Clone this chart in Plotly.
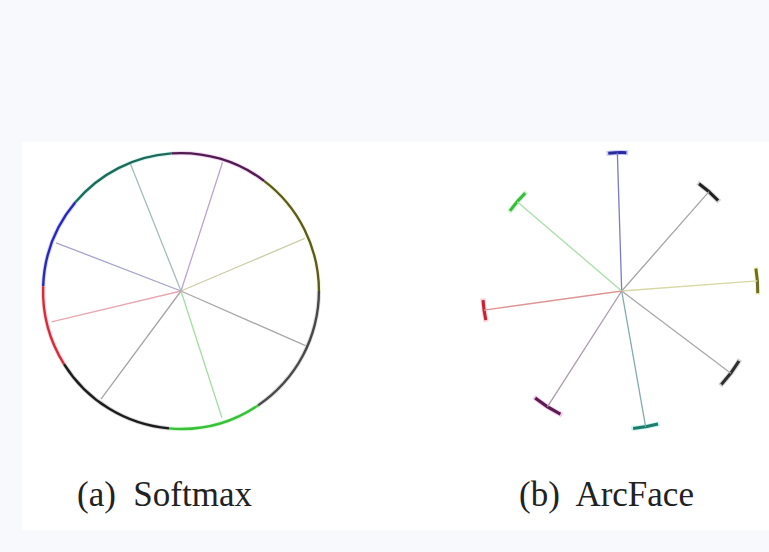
import plotly.graph_objects as go

# ---------------- data ----------------
# (a) Softmax: class weight directions (deg) and their lengths (unit circle = 1)
softmax_angles = [111.7, 72.1, 23.0, 336.3, 287.9, 233.5, 193.4, 158.9]
softmax_lengths = [0.99, 0.98, 0.975, 0.985, 0.965, 0.975, 0.965, 0.97]
softmax_spoke_colors = ["#a6bcbc", "#bca4cc", "#cccca8", "#a8a8a8",
                        "#a2dea2", "#a4a4a4", "#e8a8b2", "#a4a4cc"]

# feature ring: angular extent of each class (centre, span in deg)
ring_centers = [26.5, 73.5, 117.0, 159.0, 195.0, 238.5, 284.5, 332.0]
ring_spans = [53, 41, 46, 38, 34, 53, 39, 56]
ring_colors = ["#5a5a22", "#4e1c4e", "#1f6a5a", "#2828b8",
               "#d82a3a", "#1c1c1c", "#38c038", "#484848"]
ring_halo = ["#e4e46a", "#e070e0", "#70e0d0", "#6a6ae0",
             "#f07080", "#707070", "#80f080", "#909090"]

# (b) ArcFace: class weight directions (deg) and lengths
arcface_angles = [91.8, 48.7, 4.3, 323.0, 280.0, 237.3, 187.9, 139.5]
arcface_lengths = [1.003, 0.958, 0.986, 0.99, 0.999, 0.997, 1.007, 0.996]
arcface_spoke_colors = ["#7a7ac8", "#a4a4a4", "#d8d8a4", "#a8a8a8",
                        "#84aaaa", "#aa9aaa", "#e09494", "#a8dea8"]
# compact feature clusters at the end of each weight (angular span in deg)
cluster_spans = [7.5, 11.0, 10.5, 12.3, 10.5, 12.5, 8.3, 9.8]
cluster_colors = ["#2a2aa0", "#202020", "#6e6e1e", "#2e2e2e",
                  "#1e7a6a", "#5a1c4e", "#c82232", "#3cbc3c"]
cluster_halo = ["#7070e0", "#808080", "#e8e860", "#808080",
                "#60e0d0", "#e060d0", "#f07080", "#80f080"]

captions = ["(a)  Softmax", "(b)  ArcFace"]

# ---------------- figure ----------------
W, H = 769, 552
PX_PER_UNIT = 138.0
R_MAX = 1.06
half = R_MAX * PX_PER_UNIT


def domain(cx, cy):
    yb = H - cy
    return dict(x=[(cx - half) / W, (cx + half) / W],
                y=[(yb - half) / H, (yb + half) / H])


fig = go.Figure()

# --- Softmax panel ---
fig.add_trace(go.Barpolar(
    theta=ring_centers, width=ring_spans,
    base=[0.984] * len(ring_centers), r=[0.03] * len(ring_centers),
    marker=dict(color=ring_halo, line=dict(width=0)), opacity=0.3,
    subplot="polar", showlegend=False, hoverinfo="skip"))
fig.add_trace(go.Barpolar(
    theta=ring_centers, width=ring_spans,
    base=[0.991] * len(ring_centers), r=[0.017] * len(ring_centers),
    marker=dict(color=ring_colors, line=dict(width=0)),
    subplot="polar", showlegend=False, hoverinfo="skip"))
for ang, length, col in zip(softmax_angles, softmax_lengths, softmax_spoke_colors):
    fig.add_trace(go.Scatterpolar(
        r=[0, length], theta=[ang, ang], mode="lines",
        line=dict(color=col, width=1.3),
        subplot="polar", showlegend=False, hoverinfo="skip"))

# --- ArcFace panel ---
for ang, length, col in zip(arcface_angles, arcface_lengths, arcface_spoke_colors):
    fig.add_trace(go.Scatterpolar(
        r=[0, length], theta=[ang, ang], mode="lines",
        line=dict(color=col, width=1.3),
        subplot="polar2", showlegend=False, hoverinfo="skip"))
fig.add_trace(go.Barpolar(
    theta=arcface_angles, width=[s + 1.5 for s in cluster_spans],
    base=[l - 0.018 for l in arcface_lengths], r=[0.036] * len(arcface_lengths),
    marker=dict(color=cluster_halo, line=dict(width=0)), opacity=0.35,
    subplot="polar2", showlegend=False, hoverinfo="skip"))
fig.add_trace(go.Barpolar(
    theta=arcface_angles, width=cluster_spans,
    base=[l - 0.011 for l in arcface_lengths], r=[0.022] * len(arcface_lengths),
    marker=dict(color=cluster_colors, line=dict(width=0)),
    subplot="polar2", showlegend=False, hoverinfo="skip"))

polar_common = dict(
    bgcolor="rgba(0,0,0,0)",
    radialaxis=dict(visible=False, range=[0, R_MAX], showgrid=False),
    angularaxis=dict(visible=False, showgrid=False, rotation=0,
                     direction="counterclockwise"),
)

fig.update_layout(
    width=W, height=H,
    margin=dict(l=0, r=0, t=0, b=0),
    paper_bgcolor="#f7f9fc",
    plot_bgcolor="rgba(0,0,0,0)",
    polar=dict(domain=domain(181, 291), **polar_common),
    polar2=dict(domain=domain(621.7, 291), **polar_common),
    shapes=[dict(type="rect", xref="paper", yref="paper", layer="below",
                 x0=22 / W, x1=1.0, y0=(H - 530) / H, y1=(H - 142) / H,
                 fillcolor="#ffffff", line=dict(width=0))],
    annotations=[
        dict(text=captions[0], x=164 / W, y=(H - 494) / H,
             xref="paper", yref="paper", showarrow=False,
             xanchor="center", yanchor="middle",
             font=dict(family="Liberation Serif", size=35, color="#222222")),
        dict(text=captions[1], x=606 / W, y=(H - 494) / H,
             xref="paper", yref="paper", showarrow=False,
             xanchor="center", yanchor="middle",
             font=dict(family="Liberation Serif", size=35, color="#222222")),
    ],
)

fig.write_html("out.html")
